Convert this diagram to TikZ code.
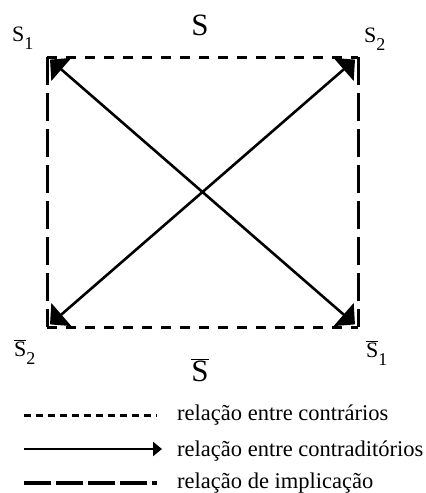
\documentclass[tikz,border=0pt]{standalone}
\usepackage{fontspec}
\setmainfont{Liberation Serif}
\usetikzlibrary{arrows.meta}
\begin{document}
\begin{tikzpicture}[x=1pt,y=-1pt,
  contr/.style={line width=3pt, dash pattern=on 10pt off 9pt},
  impl/.style={line width=3pt, dash pattern=on 28pt off 8pt},
  contrad/.style={line width=2.6pt, shorten <=4pt, shorten >=4pt,
    {Triangle[length=15pt,width=30pt]}-{Triangle[length=15pt,width=30pt]}},
  legcontr/.style={line width=3pt, dash pattern=on 7pt off 5pt},
  legcontrad/.style={line width=2.8pt, -{Triangle[length=9pt,width=14pt]}},
  legimpl/.style={line width=3.4pt, dash pattern=on 27pt off 5pt},
  lbl/.style={inner sep=0pt, anchor=base west, font=\fontsize{22}{22}\selectfont},
  big/.style={inner sep=0pt, anchor=base, font=\fontsize{31}{31}\selectfont},
  leg/.style={inner sep=0pt, anchor=base west, font=\fontsize{22.5}{22.5}\selectfont}]
\useasboundingbox (0,0) rectangle (426,493);
% corners
\coordinate (A) at (47,57);    % s1
\coordinate (B) at (358,57);   % s2
\coordinate (C) at (358,327);  % s1 bar
\coordinate (D) at (47,327);   % s2 bar
% square
\draw[contr] (A) -- (B);
\draw[contr] (D) -- (C);
\draw[impl] (A) -- (D);
\draw[impl] (B) -- (C);
% diagonals
\draw[contrad] (A) -- (C);
\draw[contrad] (B) -- (D);
% labels
\node[big] (top) at (200,35) {S};
\node[big] (bot) at (200,381) {$\overline{\mbox{S}}$};
\node[lbl] (s1) at (12,41) {S\raisebox{-8pt}{\fontsize{18}{18}\selectfont 1}};
\node[lbl] (s2) at (364,42) {S\raisebox{-8pt}{\fontsize{18}{18}\selectfont 2}};
\node[lbl] (ns2) at (14,356) {$\overline{\mbox{S}}$\raisebox{-8pt}{\fontsize{18}{18}\selectfont 2}};
\node[lbl] (ns1) at (366,357) {$\overline{\mbox{S}}$\raisebox{-8pt}{\fontsize{18}{18}\selectfont 1}};
% legend
\coordinate (l1a) at (24,415); \coordinate (l1b) at (157,415);
\coordinate (l2a) at (24,449); \coordinate (l2b) at (162,449);
\coordinate (l3a) at (24,483); \coordinate (l3b) at (157,483);
\draw[legcontr] (l1a) -- (l1b);
\draw[legcontrad] (l2a) -- (l2b);
\draw[legimpl] (l3a) -- (l3b);
\node[leg] (t1) at (177,420) {relação entre contrários};
\node[leg] (t2) at (177,456) {relação entre contraditórios};
\node[leg] (t3) at (177,488) {relação de implicação};
\end{tikzpicture}
\end{document}
